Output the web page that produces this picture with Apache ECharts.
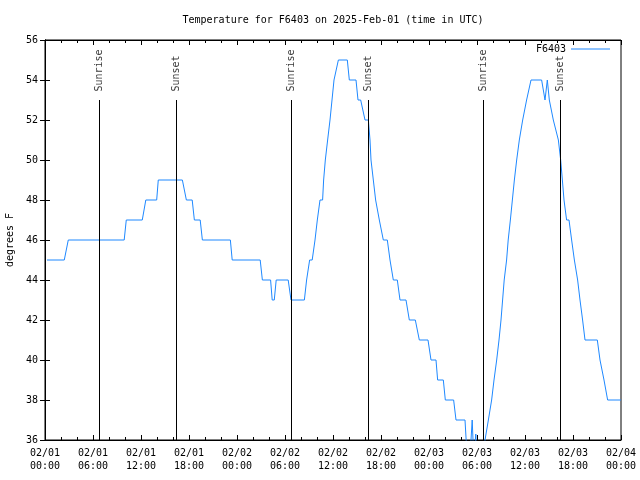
<!DOCTYPE html>
<html>
<head>
<meta charset="utf-8">
<script src="https://cdn.jsdelivr.net/npm/echarts@6/dist/echarts.min.js"></script>
<style>
html,body{margin:0;padding:0;background:#fff;}
#chart{width:640px;height:480px;}
</style>
</head>
<body>
<div id="chart"></div>
<script>
// Hours since 2025-02-01 00:00 UTC
const hours = [
  0.25, 2.41, 2.91, 9.9, 10.16, 12.16, 12.6, 13.96, 14.16, 17.17,
  17.67, 18.4, 18.67, 19.4, 19.67, 23.17, 23.4, 26.9, 27.17, 28.2,
  28.4, 28.66, 28.9, 30.4, 30.75, 32.42, 32.7, 33.08, 33.4, 33.75,
  34.04, 34.375, 34.7, 34.83, 35.04, 35.33, 35.625, 35.875, 36.125, 36.67,
  37.79, 38.04, 38.875, 39.125, 39.46, 40.0, 40.42, 40.625, 40.75, 41.04,
  41.33, 41.54, 41.79, 42.04, 42.29, 42.79, 43.125, 43.29, 43.54, 44.04,
  44.375, 45.125, 45.54, 46.29, 46.79, 47.875, 48.25, 48.875, 49.08, 49.79,
  50.04, 51.08, 51.375, 52.5, 52.79, 53.1, 53.4, 53.6, 53.85, 53.95,
  54.9, 55.0, 55.42, 55.83, 56.125, 56.46, 56.75, 57.0, 57.2, 57.4,
  57.7, 57.9, 58.17, 58.42, 58.67, 58.96, 59.29, 59.71, 59.92, 60.2,
  60.75, 62.08, 62.5, 62.79, 63.04, 63.25, 63.54, 63.79, 64.17, 64.46,
  64.67, 64.875, 65.2, 65.5, 65.83, 66.17, 66.58, 66.875, 67.2, 67.5,
  69.04, 69.375, 69.875, 70.08, 70.33, 72.0
];
const temps = [
  45, 45, 46, 46, 47, 47, 48, 48, 49, 49,
  48, 48, 47, 47, 46, 46, 45, 45, 44, 44,
  43, 43, 44, 44, 43, 43, 44, 45, 45, 46,
  47, 48, 48, 49, 50, 51, 52, 53, 54, 55,
  55, 54, 54, 53, 53, 52, 52, 51, 50, 49,
  48, 48, 47, 47, 46, 46, 45, 45, 44, 44,
  43, 43, 42, 42, 41, 41, 40, 40, 39, 39,
  38, 38, 37, 37, 35, 35, 37, 35, 36.3, 35,
  35, 36, 37, 38, 39, 40, 41, 42, 43, 44,
  45, 46, 47, 48, 49, 50, 51, 52, 52, 53,
  54, 54, 53, 54, 53, 53, 52, 52, 51, 50,
  49, 48, 47, 47, 46, 45, 44, 43, 42, 41,
  41, 40, 39, 39, 38, 38
];
const sunTimes = [6.75, 16.375, 30.75, 40.375, 54.75, 64.375];
const sunLabels = ['Sunrise', 'Sunset', 'Sunrise', 'Sunset', 'Sunrise', 'Sunset'];
const sunLineTop = 53;
const xTickLabels = [
  '02/01\n00:00', '02/01\n06:00', '02/01\n12:00', '02/01\n18:00',
  '02/02\n00:00', '02/02\n06:00', '02/02\n12:00', '02/02\n18:00',
  '02/03\n00:00', '02/03\n06:00', '02/03\n12:00', '02/03\n18:00',
  '02/04\n00:00'
];
const yMin = 36, yMax = 56, yStep = 2;
const xMin = 0, xMax = 72, xStep = 6;

const FONT = 'DejaVu Sans Mono';
const LINE_COLOR = '#1e88ff';
const tempData = hours.map((h, i) => [h, temps[i]]);
const sunData = sunTimes.map((t, i) => [t, sunLineTop, sunLabels[i]]);

const chart = echarts.init(document.getElementById('chart'), null, {renderer: 'canvas'});
const tickCommon = {show: true, inside: true, length: 5, lineStyle: {color: '#000', width: 1}};
chart.setOption({
  animation: false,
  backgroundColor: '#fff',
  title: {
    text: 'Temperature for F6403 on 2025-Feb-01 (time in UTC)',
    left: 328, top: 10, textAlign: 'center',
    textStyle: {fontFamily: FONT, fontSize: 10, fontWeight: 'normal', color: '#000'}
  },
  legend: {
    data: [{name: 'F6403', icon: 'rect'}], right: 30, top: 44, align: 'right', padding: 0,
    itemWidth: 39, itemHeight: 1,
    textStyle: {fontFamily: FONT, fontSize: 10, color: '#000'}
  },
  grid: {left: 45, right: 19, top: 40, bottom: 40, containLabel: false, outerBoundsMode: 'none',
         show: true, borderColor: '#000', borderWidth: 1},
  xAxis: [{
    type: 'value', min: xMin, max: xMax, interval: xStep,
    axisLine: {show: true, lineStyle: {color: '#000'}},
    axisTick: tickCommon,
    minorTick: {show: true, splitNumber: 3, length: 3, lineStyle: {color: '#000'}},
    splitLine: {show: false},
    axisLabel: {
      show: true, margin: 7, color: '#000', fontFamily: FONT, fontSize: 10, lineHeight: 13,
      showMinLabel: true, showMaxLabel: true,
      formatter: v => xTickLabels[Math.round(v / xStep)] || ''
    }
  }, {
    type: 'value', position: 'top', min: xMin, max: xMax, interval: xStep,
    axisLine: {show: true, lineStyle: {color: '#000'}},
    axisTick: tickCommon,
    minorTick: {show: true, splitNumber: 3, length: 3, lineStyle: {color: '#000'}},
    splitLine: {show: false}, axisLabel: {show: false}
  }],
  yAxis: [{
    type: 'value', min: yMin, max: yMax, interval: yStep,
    name: 'degrees F', nameLocation: 'middle', nameGap: 30, nameRotate: 90,
    nameTextStyle: {fontFamily: FONT, fontSize: 10, color: '#000'},
    axisLine: {show: true, lineStyle: {color: '#000'}},
    axisTick: tickCommon,
    splitLine: {show: false},
    axisLabel: {show: true, margin: 7, color: '#000', fontFamily: FONT, fontSize: 10}
  }, {
    type: 'value', position: 'right', min: yMin, max: yMax, interval: yStep,
    axisLine: {show: true, lineStyle: {color: '#000'}},
    axisTick: tickCommon,
    splitLine: {show: false}, axisLabel: {show: false}
  }],
  series: [{
    name: 'F6403', type: 'line', data: tempData,
    xAxisIndex: 0, yAxisIndex: 0,
    symbol: 'none', showSymbol: false, clip: true,
    lineStyle: {color: LINE_COLOR, width: 1},
    itemStyle: {color: LINE_COLOR},
    markLine: {
      silent: true, symbol: ['none', 'none'],
      lineStyle: {color: '#000', width: 1, type: 'solid'},
      label: {show: false},
      data: sunTimes.map(t => [{coord: [t, yMin]}, {coord: [t, sunLineTop]}])
    }
  }, {
    name: 'sun', type: 'scatter', data: sunData,
    xAxisIndex: 0, yAxisIndex: 0,
    symbolSize: 1, itemStyle: {color: 'rgba(0,0,0,0)'},
    label: {
      show: true, position: 'top', distance: 8, rotate: 90,
      align: 'left', verticalAlign: 'middle',
      fontFamily: FONT, fontSize: 10, color: '#000',
      formatter: p => p.value[2]
    }
  }]
});
</script>
</body>
</html>
